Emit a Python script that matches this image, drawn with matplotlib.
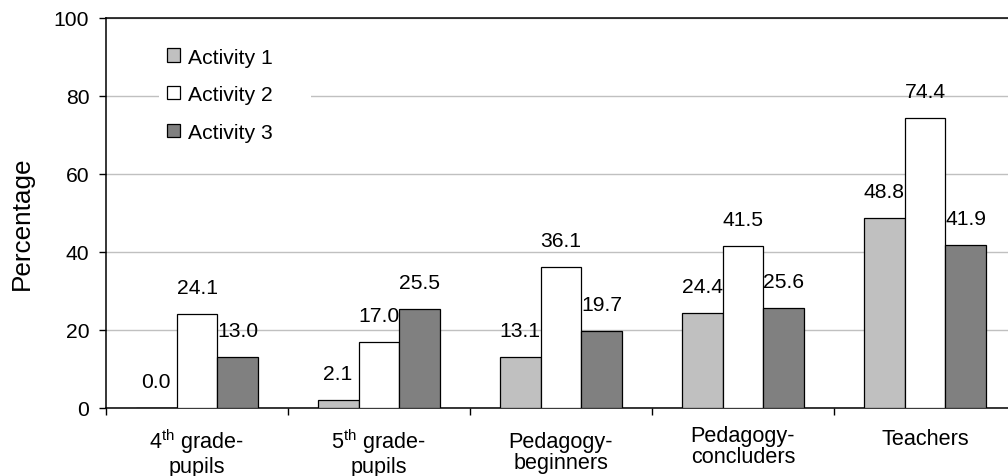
import numpy as np
import matplotlib
matplotlib.use('Agg')
import matplotlib.pyplot as plt
import matplotlib.transforms as mtransforms
from matplotlib.patches import Patch

plt.rcParams['font.family'] = ['Liberation Sans', 'DejaVu Sans']
plt.rcParams['mathtext.fontset'] = 'custom'
plt.rcParams['mathtext.rm'] = 'Liberation Sans'

# data
groups = [r'4$^{\mathrm{th}}$ grade-' + '\npupils',
          r'5$^{\mathrm{th}}$ grade-' + '\npupils',
          'Pedagogy-\nbeginners',
          'Pedagogy-\nconcluders',
          'Teachers']
series = ['Activity 1', 'Activity 2', 'Activity 3']
act1 = [0.0, 2.1, 13.1, 24.4, 48.8]
act2 = [24.1, 17.0, 36.1, 41.5, 74.4]
act3 = [13.0, 25.5, 19.7, 25.6, 41.9]
colors = ['#C0C0C0', '#FFFFFF', '#808080']

fs = 15.2

fig = plt.figure(figsize=(10.08, 4.77), dpi=100)
ax = fig.add_axes([106/1008, 68/477, 910/1008, 390/477])

x = np.arange(len(groups))
w = 0.225
for i, vals in enumerate([act1, act2, act3]):
    pos = x + (i - 1) * w
    ax.bar(pos, vals, width=w, color=colors[i], edgecolor='black', linewidth=0.9, zorder=3)
    for p, v in zip(pos, vals):
        ax.annotate(f'{v:.1f}', (p, v), xytext=(0, 19), textcoords='offset points',
                    ha='center', va='center', fontsize=fs)

ax.set_xlim(-0.5, 4.5)
ax.set_ylim(0, 100)
ax.set_yticks(range(0, 101, 20))
ax.yaxis.grid(True, color='#C0C0C0', linewidth=1, zorder=0)
ax.set_axisbelow(True)

ax.set_xticks(np.arange(-0.5, 5, 1))
ax.set_xticklabels([])
ax.tick_params(axis='x', which='major', length=5, width=1, direction='out')
ax.tick_params(axis='y', length=5, width=1, pad=7, labelsize=fs)

# category labels below the axis (Excel-like wrapped text)
trans = mtransforms.blended_transform_factory(ax.transData, ax.transAxes)
drops = [44, 44, 44, 38, 31]  # px below axis to the centre of each label block
for xi, lab, d in zip(x, groups, drops):
    ax.annotate(lab, (xi, 0), xycoords=trans, xytext=(0, -d * 0.72),
                textcoords='offset points', ha='center', va='center',
                fontsize=15.6, linespacing=1.05, annotation_clip=False)

ax.spines['right'].set_visible(False)
for s in ['left', 'bottom', 'top']:
    ax.spines[s].set_linewidth(1.1)

fig.text(22/1008, 1 - 223/477, 'Percentage', rotation=90, ha='center', va='center', fontsize=18.8)

handles = [Patch(facecolor=c, edgecolor='black', linewidth=0.9) for c in colors]
leg = ax.legend(handles, [s + '     ' for s in series], loc='upper left',
                bbox_to_anchor=(0.058, 0.946),
                borderaxespad=0, borderpad=0.4, fontsize=fs, frameon=True,
                fancybox=False, edgecolor='none', facecolor='white', framealpha=1,
                handlelength=0.6, handleheight=0.6, handletextpad=0.4, labelspacing=0.88)

fig.savefig('out.png', dpi=100)
